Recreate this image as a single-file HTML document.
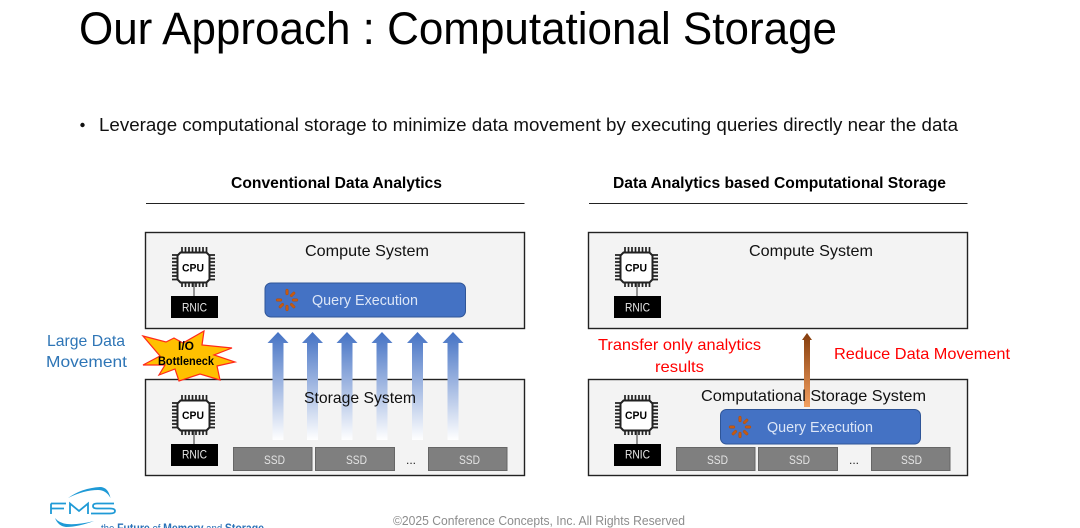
<!DOCTYPE html>
<html lang="en">
<head>
<meta charset="utf-8">
<title>Our Approach : Computational Storage</title>
<style>
html,body{margin:0;padding:0;background:#fff;width:1080px;height:528px;overflow:hidden}
svg{display:block}
text{font-family:"Liberation Sans",Arial,sans-serif}
</style>
</head>
<body>
<svg xmlns="http://www.w3.org/2000/svg" width="1080" height="528" viewBox="0 0 1080 528">
<defs>
<linearGradient id="blueG" x1="0" y1="0" x2="0" y2="1">
<stop offset="0" stop-color="#4472c4"/><stop offset="0.5" stop-color="#a3b9e2"/><stop offset="1" stop-color="#ffffff"/>
</linearGradient>
<linearGradient id="orangeG" x1="0" y1="0" x2="0" y2="1">
<stop offset="0" stop-color="#843c0c"/><stop offset="1" stop-color="#f4a060"/>
</linearGradient>
<g id="chip">
<g stroke="#222" stroke-width="1.700" fill="none">
<path d="M182 247v6M185.500 247v6M189 247v6M192.500 247v6M196 247v6M199.500 247v6M203 247v6M206.500 247v6"/>
<path d="M182 281v6M185.500 281v6M189 281v6M192.500 281v6M196 281v6M199.500 281v6M203 281v6M206.500 281v6"/>
<path d="M172 255h6M172 258.500h6M172 262h6M172 265.500h6M172 269h6M172 272.500h6M172 276h6M172 279.500h6"/>
<path d="M209 255h6M209 258.500h6M209 262h6M209 265.500h6M209 269h6M209 272.500h6M209 276h6M209 279.500h6"/>
</g>
<path d="M180.500 252.500h26l3 3v24l-3 3h-26l-3-3v-24z" fill="#fff" stroke="#222" stroke-width="2"/>
<path d="M194 283v13" stroke="#333" stroke-width="1"/>
<rect x="171" y="296" width="47" height="22" fill="#000"/>
</g>
<g id="spin" fill="#c55a11" stroke="#a9480c" stroke-width="0.400">
<rect x="-1.300" y="-11" width="2.600" height="6" rx="1.300"/>
<rect x="-1.300" y="-11" width="2.600" height="6" rx="1.300" transform="rotate(45)"/>
<rect x="-1.300" y="-11" width="2.600" height="6" rx="1.300" transform="rotate(90)"/>
<rect x="-1.300" y="-11" width="2.600" height="6" rx="1.300" transform="rotate(135)"/>
<rect x="-1.300" y="-11" width="2.600" height="6" rx="1.300" transform="rotate(180)"/>
<rect x="-1.300" y="-11" width="2.600" height="6" rx="1.300" transform="rotate(225)"/>
<rect x="-1.300" y="-11" width="2.600" height="6" rx="1.300" transform="rotate(270)"/>
</g>
<path id="up" d="M0 332L10.500 343H5.500V440H-5.500V343H-10.500Z" fill="url(#blueG)"/>
</defs>

<!-- Title and bullet -->
<text x="79" y="44" font-size="45" fill="#000" textLength="758" lengthAdjust="spacingAndGlyphs">Our Approach : Computational Storage</text>
<circle cx="82.500" cy="125" r="2.200" fill="#111"/>
<text x="99" y="131" font-size="18.500" fill="#111" textLength="859" lengthAdjust="spacingAndGlyphs">Leverage computational storage to minimize data movement by executing queries directly near the data</text>

<!-- Headings -->
<text x="231" y="188" font-size="15.500" font-weight="bold" fill="#000" textLength="211" lengthAdjust="spacingAndGlyphs">Conventional Data Analytics</text>
<path d="M146 203.500H524.500" stroke="#222" stroke-width="1"/>
<text x="613" y="188" font-size="15.500" font-weight="bold" fill="#000" textLength="333" lengthAdjust="spacingAndGlyphs">Data Analytics based Computational Storage</text>
<path d="M589 203.500H967.500" stroke="#222" stroke-width="1"/>

<!-- Left boxes -->
<rect x="145.500" y="232.500" width="379" height="96" fill="#f3f3f3" stroke="#222" stroke-width="1.400"/>
<rect x="145.500" y="379.500" width="379" height="96" fill="#f3f3f3" stroke="#222" stroke-width="1.400"/>
<text x="305" y="256" font-size="16" fill="#111" textLength="124" lengthAdjust="spacingAndGlyphs">Compute System</text>
<use href="#chip"/>
<use href="#chip" y="148"/>
<text x="182" y="271.500" font-size="11" font-weight="bold" fill="#000" textLength="22" lengthAdjust="spacingAndGlyphs">CPU</text>
<text x="182" y="419" font-size="11" font-weight="bold" fill="#000" textLength="22" lengthAdjust="spacingAndGlyphs">CPU</text>
<text x="182" y="311.500" font-size="12" fill="#e8e8e8" textLength="25" lengthAdjust="spacingAndGlyphs">RNIC</text>
<text x="182" y="458.500" font-size="12" fill="#e8e8e8" textLength="25" lengthAdjust="spacingAndGlyphs">RNIC</text>
<rect x="265" y="283" width="200.500" height="34" rx="6" fill="#4472c4" stroke="#2f5597" stroke-width="1"/>
<use href="#spin" transform="translate(287 300)"/>
<text x="312" y="305" font-size="14.500" fill="#dce6f7" textLength="106" lengthAdjust="spacingAndGlyphs">Query Execution</text>
<g>
<rect x="233.500" y="447.500" width="78.500" height="23" fill="#7f7f7f" stroke="#666" stroke-width="1"/>
<rect x="315.500" y="447.500" width="79" height="23" fill="#7f7f7f" stroke="#666" stroke-width="1"/>
<rect x="428.500" y="447.500" width="78.500" height="23" fill="#7f7f7f" stroke="#666" stroke-width="1"/>
<text x="264" y="464" font-size="12" fill="#e4e4e4" textLength="21" lengthAdjust="spacingAndGlyphs">SSD</text>
<text x="346" y="464" font-size="12" fill="#e4e4e4" textLength="21" lengthAdjust="spacingAndGlyphs">SSD</text>
<text x="459" y="464" font-size="12" fill="#e4e4e4" textLength="21" lengthAdjust="spacingAndGlyphs">SSD</text>
<text x="406" y="464" font-size="12" fill="#222">...</text>
</g>
<use href="#up" x="278"/>
<use href="#up" x="312.500"/>
<use href="#up" x="347"/>
<use href="#up" x="382"/>
<use href="#up" x="417.500"/>
<use href="#up" x="453"/>
<text x="304" y="403" font-size="16" fill="#111" textLength="112" lengthAdjust="spacingAndGlyphs">Storage System</text>

<!-- Burst -->
<polygon points="143,336 166,342 174,338 183,343 204,331 202,345 232,348 214,355 235,362 217,366 220,380 200,374 179,381 175,369 159,375 165,365 143,365 160,356" fill="#ffc000" stroke="#ff2a1a" stroke-width="1.200"/>
<text x="186" y="350" font-size="12" font-weight="bold" fill="#000" text-anchor="middle">I/O</text>
<text x="186" y="365" font-size="11.500" font-weight="bold" fill="#000" text-anchor="middle" textLength="56" lengthAdjust="spacingAndGlyphs">Bottleneck</text>
<text x="47" y="346" font-size="16" fill="#2e75b6" textLength="78" lengthAdjust="spacingAndGlyphs">Large Data</text>
<text x="46" y="367" font-size="16" fill="#2e75b6" textLength="81" lengthAdjust="spacingAndGlyphs">Movement</text>

<!-- Right boxes -->
<rect x="588.500" y="232.500" width="379" height="96" fill="#f3f3f3" stroke="#222" stroke-width="1.400"/>
<rect x="588.500" y="379.500" width="379" height="96" fill="#f3f3f3" stroke="#222" stroke-width="1.400"/>
<text x="749" y="256" font-size="16" fill="#111" textLength="124" lengthAdjust="spacingAndGlyphs">Compute System</text>
<use href="#chip" x="443"/>
<use href="#chip" x="443" y="148"/>
<text x="625" y="271.500" font-size="11" font-weight="bold" fill="#000" textLength="22" lengthAdjust="spacingAndGlyphs">CPU</text>
<text x="625" y="419" font-size="11" font-weight="bold" fill="#000" textLength="22" lengthAdjust="spacingAndGlyphs">CPU</text>
<text x="625" y="311.500" font-size="12" fill="#e8e8e8" textLength="25" lengthAdjust="spacingAndGlyphs">RNIC</text>
<text x="625" y="458.500" font-size="12" fill="#e8e8e8" textLength="25" lengthAdjust="spacingAndGlyphs">RNIC</text>
<path d="M807 333L812 340H810V407H804V340H802Z" fill="url(#orangeG)"/>
<text x="701" y="401" font-size="16" fill="#111" textLength="225" lengthAdjust="spacingAndGlyphs">Computational Storage System</text>
<rect x="720.500" y="409.500" width="200" height="34.500" rx="6" fill="#4472c4" stroke="#2f5597" stroke-width="1"/>
<use href="#spin" transform="translate(740 427)"/>
<text x="767" y="432" font-size="14.500" fill="#dce6f7" textLength="106" lengthAdjust="spacingAndGlyphs">Query Execution</text>
<rect x="676.500" y="447.500" width="78.500" height="23" fill="#7f7f7f" stroke="#666" stroke-width="1"/>
<rect x="758.500" y="447.500" width="79" height="23" fill="#7f7f7f" stroke="#666" stroke-width="1"/>
<rect x="871.500" y="447.500" width="78.500" height="23" fill="#7f7f7f" stroke="#666" stroke-width="1"/>
<text x="707" y="464" font-size="12" fill="#e4e4e4" textLength="21" lengthAdjust="spacingAndGlyphs">SSD</text>
<text x="789" y="464" font-size="12" fill="#e4e4e4" textLength="21" lengthAdjust="spacingAndGlyphs">SSD</text>
<text x="901" y="464" font-size="12" fill="#e4e4e4" textLength="21" lengthAdjust="spacingAndGlyphs">SSD</text>
<text x="849" y="464" font-size="12" fill="#222">...</text>

<text x="598" y="350" font-size="16" fill="#ff0000" textLength="163" lengthAdjust="spacingAndGlyphs">Transfer only analytics</text>
<text x="655" y="372" font-size="16" fill="#ff0000" textLength="49" lengthAdjust="spacingAndGlyphs">results</text>
<text x="834" y="359" font-size="16" fill="#ff0000" textLength="176" lengthAdjust="spacingAndGlyphs">Reduce Data Movement</text>

<!-- Footer logo -->
<g fill="none" stroke="#1f9ad6" stroke-width="1.800">
<path d="M51 503.500H66M51 503.500V514M51 508.500H64"/>
<path d="M70 514V503.500L79 511L88 503.500V514"/>
<path d="M114 503.500H97Q93 503.500 93 506Q93 508.500 97 508.500H110Q115 508.500 115 511Q115 513.500 110 513.500H91"/>
<path d="M68 498Q82 488 100 487Q108 487 110.500 498Q106 490 98 490Q84 490 68 498Z" fill="#1f9ad6" stroke="none"/>
<path d="M55 518Q58 526 66 527Q78 527 94 521Q78 525 67 524Q59 523 55 518Z" fill="#1f9ad6" stroke="none"/>
</g>
<text x="101" y="532" font-size="11" fill="#2a72b8" textLength="163" lengthAdjust="spacingAndGlyphs">the <tspan font-weight="bold" font-size="12">Future</tspan> of <tspan font-weight="bold" font-size="12">Memory</tspan> and <tspan font-weight="bold" font-size="12">Storage</tspan></text>
<text x="393" y="525" font-size="12.500" fill="#8c8c8c" textLength="292" lengthAdjust="spacingAndGlyphs">©2025 Conference Concepts, Inc. All Rights Reserved</text>
</svg>
</body>
</html>
